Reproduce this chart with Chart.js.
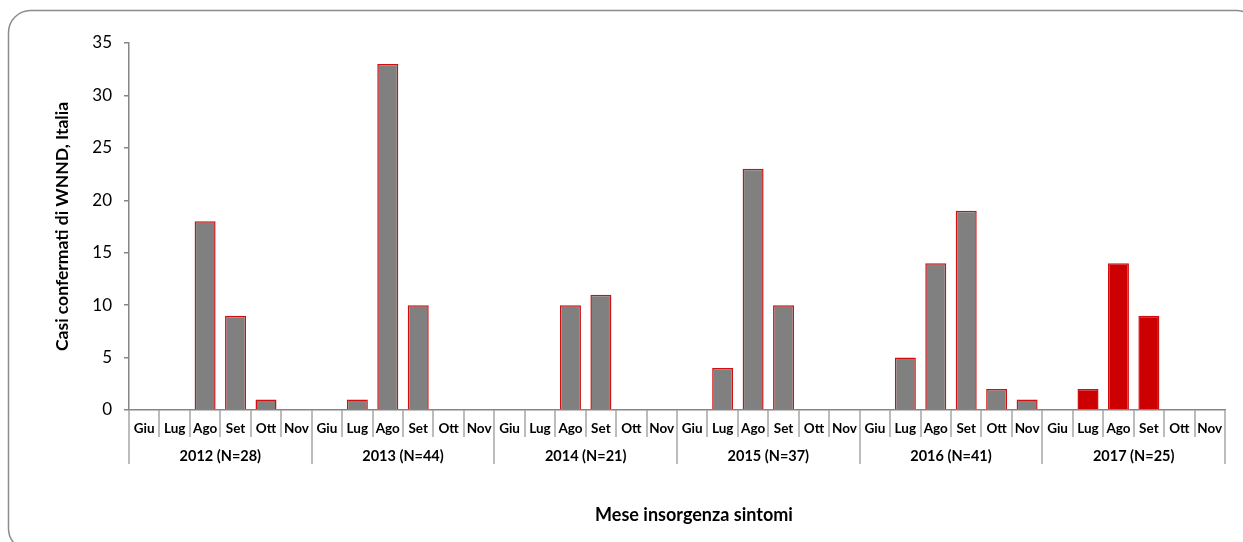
<!doctype html>
<html>
	<head>
		<title>Casi confermati di WNND</title>
		<script src="https://cdn.jsdelivr.net/npm/chart.js@4.4.0/dist/chart.umd.min.js"></script>
		<style>
			html, body { margin: 0; padding: 0; background: #fff; }
			#wrap { position: relative; width: 1243px; height: 542px; }
		</style>
	</head>
	<body>
		<div id="wrap"><canvas id="chart"></canvas></div>
		<script>
			// data
			const months = ['Giu', 'Lug', 'Ago', 'Set', 'Ott', 'Nov'];
			const years = ['2012 (N=28)', '2013 (N=44)', '2014 (N=21)', '2015 (N=37)', '2016 (N=41)', '2017 (N=25)'];
			const cases2012 = [0, 0, 18, 9, 1, 0];
			const cases2013 = [0, 1, 33, 10, 0, 0];
			const cases2014 = [0, 0, 10, 11, 0, 0];
			const cases2015 = [0, 4, 23, 10, 0, 0];
			const cases2016 = [0, 5, 14, 19, 2, 1];
			const cases2017 = [0, 2, 14, 9, 0, 0];
			const yTicks = [0, 5, 10, 15, 20, 25, 30, 35];

			const allCases = [cases2012, cases2013, cases2014, cases2015, cases2016, cases2017];
			const labels = [];
			const values = [];
			const fills = [];
			allCases.forEach((arr, yi) => {
				arr.forEach((v, mi) => {
					labels.push(months[mi]);
					values.push(v);
					fills.push(yi === allCases.length - 1 ? '#cc0000' : '#808080');
				});
			});

			const FONT = 'Lato, "Liberation Sans", sans-serif';
			Chart.defaults.font.family = FONT;

			// frame round the whole chart
			const framePlugin = {
				id: 'frame',
				beforeDraw(chart) {
					const ctx = chart.ctx;
					ctx.save();
					ctx.fillStyle = '#fff';
					ctx.fillRect(0, 0, chart.width, chart.height);
					ctx.beginPath();
					ctx.roundRect(8.5, 10.5, 1250, 540, 22);
					ctx.strokeStyle = '#8c8c8c';
					ctx.lineWidth = 1.5;
					ctx.stroke();
					ctx.restore();
				}
			};

			// two-level category axis: months, then years
			const groupAxis = {
				id: 'groupAxis',
				afterDraw(chart) {
					const ctx = chart.ctx;
					const x = chart.scales.x;
					const y0 = chart.chartArea.bottom;
					const n = labels.length;
					const step = x.getPixelForValue(1) - x.getPixelForValue(0);
					ctx.save();
					ctx.strokeStyle = '#a6a6a6';
					ctx.lineWidth = 1.5;
					for (let i = 0; i <= n; i++) {
						const px = Math.round(x.getPixelForValue(i) - step / 2);
						const len = (i % months.length === 0) ? 54 : 27;
						ctx.beginPath();
						ctx.moveTo(px, y0);
						ctx.lineTo(px, y0 + len);
						ctx.stroke();
					}
					ctx.fillStyle = '#000';
					ctx.textAlign = 'center';
					ctx.textBaseline = 'middle';
					ctx.font = 'bold 13.5px ' + FONT;
					for (let i = 0; i < n; i++) {
						ctx.fillText(labels[i], x.getPixelForValue(i), y0 + 19);
					}
					ctx.font = 'bold 14.5px ' + FONT;
					years.forEach((yr, yi) => {
						const a = x.getPixelForValue(yi * months.length);
						const b = x.getPixelForValue(yi * months.length + months.length - 1);
						ctx.fillText(yr, (a + b) / 2, y0 + 46);
					});
					ctx.font = 'bold 18px ' + FONT;
					ctx.fillText('Mese insorgenza sintomi', 694, 515);
					ctx.restore();
				}
			};

			const ctx = document.getElementById('chart').getContext('2d');
			new Chart(ctx, {
				type: 'bar',
				data: {
					labels: labels,
					datasets: [{
						label: 'Casi',
						data: values,
						backgroundColor: fills,
						borderColor: '#d01010',
						borderWidth: 1.5,
						categoryPercentage: 1,
						barPercentage: 0.69
					}]
				},
				options: {
					responsive: true,
					maintainAspectRatio: false,
					animation: false,
					layout: { padding: { left: 52, top: 43, right: 18, bottom: 132 } },
					plugins: {
						legend: { display: false },
						tooltip: { enabled: false }
					},
					scales: {
						x: {
							ticks: { display: false },
							grid: { display: false, drawTicks: false, tickLength: 0 },
							border: { color: '#868686', width: 1.5 }
						},
						y: {
							min: 0,
							max: 35,
							afterBuildTicks(s) { s.ticks = yTicks.map(v => ({ value: v })); },
							afterFit(s) { s.width = 77; },
							ticks: { padding: 12, color: '#000', font: { size: 17 } },
							grid: { drawOnChartArea: false, tickLength: 5, color: '#868686', lineWidth: 1.5 },
							border: { color: '#868686', width: 1.5 },
							title: {
								display: true,
								text: 'Casi confermati di WNND, Italia',
								color: '#000',
								font: { size: 17.5, weight: 'bold' },
								padding: { top: 0, bottom: 0 }
							}
						}
					}
				},
				plugins: [framePlugin, groupAxis]
			});
		</script>
	</body>
</html>
